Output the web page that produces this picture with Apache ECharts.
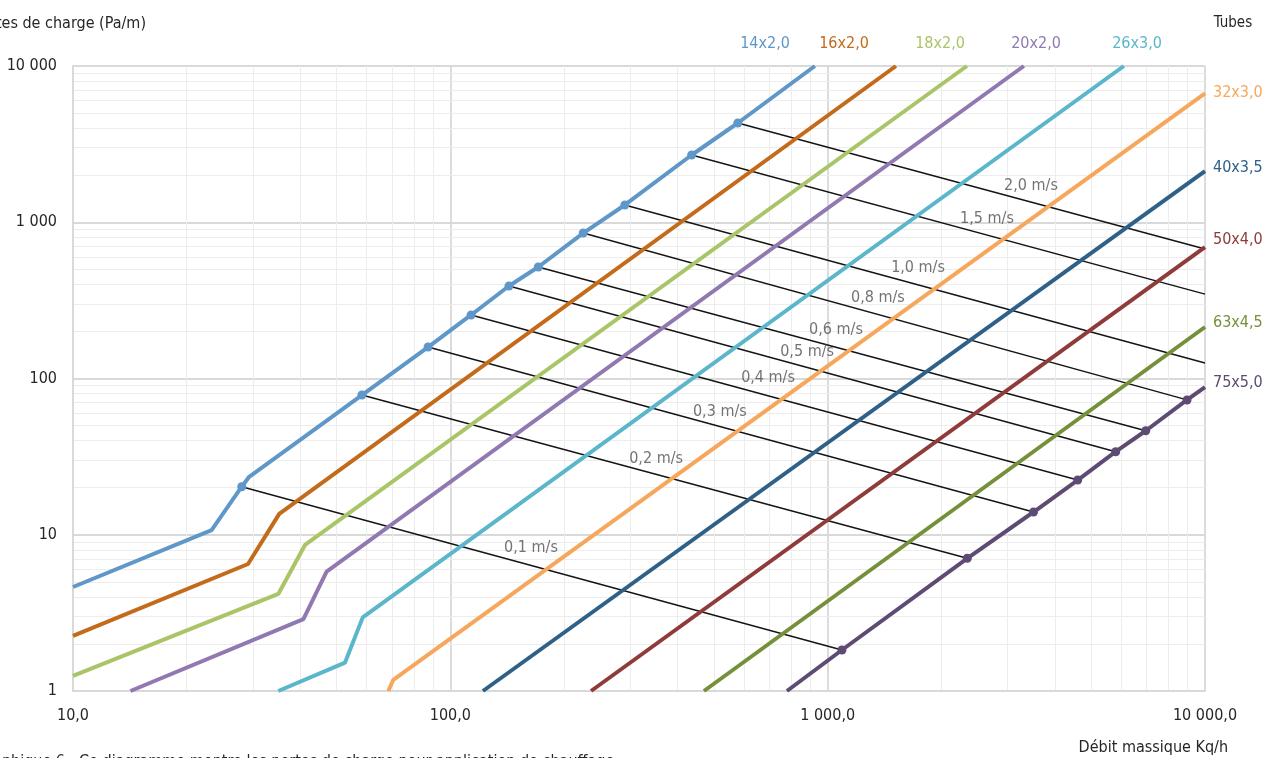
<!DOCTYPE html>
<html>
<head>
<meta charset="utf-8">
<script src="https://cdn.jsdelivr.net/npm/echarts@6/dist/echarts.min.js"></script>
<style>
html,body{margin:0;padding:0;background:#fff;}
#chart{width:1264px;height:758px;}
</style>
</head>
<body>
<div id="chart"></div>
<script>
// ---------- DATA ----------
const xTickLabels = ['10,0', '100,0', '1 000,0', '10 000,0'];
const yTickLabels = ['1', '10', '100', '1 000', '10 000'];
const minorMultipliers = [2, 3, 4, 5, 6, 7, 8, 9];

const tubeNames = ['14x2,0', '16x2,0', '18x2,0', '20x2,0', '26x3,0', '32x3,0', '40x3,5', '50x4,0', '63x4,5', '75x5,0'];
const tubeColors = ['#5f97c8', '#c46a1b', '#a9c567', '#9079b0', '#5ab6cb', '#f7a75c', '#2e6088', '#8e3b3a', '#76903a', '#5e4b73'];

const tube14 = [[10, 4.63], [23.3, 10.7], [28.0, 20.3], [29.3, 23.5], [58.3, 78.4], [87.3, 159], [113.5, 255], [143, 391], [171, 517], [225, 853], [290, 1290], [436, 2694], [578, 4317], [925, 10000]];
const tube16 = [[10, 2.25], [29.1, 6.5], [35.2, 13.6], [1517, 10000]];
const tube18 = [[10, 1.25], [35.0, 4.18], [41.2, 8.6], [2339, 10000]];
const tube20 = [[14.2, 1], [40.8, 2.88], [47.0, 5.8], [3311, 10000]];
const tube26 = [[35.0, 1], [52.6, 1.52], [58.6, 2.96], [6095, 10000]];
const tube32 = [[68.5, 1], [70.6, 1.18], [10000, 6680]];
const tube40 = [[122, 1], [10000, 2128]];
const tube50 = [[236, 1], [10000, 694]];
const tube63 = [[470, 1], [10000, 213.6]];
const tube75 = [[780, 1], [1091, 1.83], [2344, 7.07], [3512, 13.98], [4599, 22.4], [5799, 34.0], [6966, 46.3], [8960, 72.9], [10000, 88.2]];
const tubeData = [tube14, tube16, tube18, tube20, tube26, tube32, tube40, tube50, tube63, tube75];

const velocities = ['0,1 m/s', '0,2 m/s', '0,3 m/s', '0,4 m/s', '0,5 m/s', '0,6 m/s', '0,8 m/s', '1,0 m/s', '1,5 m/s', '2,0 m/s'];
const velFrom = [[28.0, 20.3], [58.3, 78.4], [87.3, 159], [113.5, 255], [143, 391], [171, 517], [225, 853], [290, 1290], [436, 2694], [578, 4317]];
const velTo = [[1091, 1.83], [2344, 7.07], [3512, 13.98], [4599, 22.4], [5799, 34.0], [6966, 46.3], [8960, 72.9], [10000, 125.7], [10000, 347], [10000, 674]];
const velLabelPos = [[163.6, 8.23], [351, 30.5], [518, 61.0], [695, 100.7], [882, 147.7], [1052, 204], [1359, 327.6], [1736, 509.6], [2644, 1049], [3459, 1706]];
const dots14 = velFrom;
const dots75 = [[1091, 1.83], [2344, 7.07], [3512, 13.98], [4599, 22.4], [5799, 34.0], [6966, 46.3], [8960, 72.9]];

// ---------- CHART ----------
const FONT = "'Liberation Sans Narrow', 'DejaVu Sans Condensed', 'Noto Sans', sans-serif";
const chart = echarts.init(document.getElementById('chart'), null, { renderer: 'canvas' });

const minorX = [];
[10, 100, 1000].forEach(d => minorMultipliers.forEach(m => minorX.push(d * m)));
const minorY = [];
[1, 10, 100, 1000].forEach(d => minorMultipliers.forEach(m => minorY.push(d * m)));

const series = [];
// minor grid
series.push({
  type: 'line', data: [], z: 0, silent: true, symbol: 'none',
  markLine: {
    silent: true, symbol: ['none', 'none'], animation: false, z: 0,
    label: { show: false },
    lineStyle: { color: '#ededed', width: 1, type: 'solid' },
    emphasis: { disabled: true },
    data: minorX.map(v => ({ xAxis: v })).concat(minorY.map(v => ({ yAxis: v })))
  }
});
// velocity lines
velocities.forEach((v, i) => {
  series.push({
    type: 'line', name: v, data: [velFrom[i], velTo[i]], symbol: 'none', z: 2,
    silent: true, lineStyle: { color: '#141414', width: 1.4 }
  });
});
// tube lines
tubeNames.forEach((n, i) => {
  series.push({
    type: 'line', name: n, data: tubeData[i], symbol: 'none', z: 3,
    silent: true, lineStyle: { color: tubeColors[i], width: 4 }
  });
});
// dots
series.push({ type: 'scatter', data: dots14, symbolSize: 9, z: 4, silent: true, itemStyle: { color: tubeColors[0], opacity: 1 } });
series.push({ type: 'scatter', data: dots75, symbolSize: 9, z: 4, silent: true, itemStyle: { color: tubeColors[9], opacity: 1 } });
// velocity labels
series.push({
  type: 'scatter', z: 5, silent: true, symbolSize: 1,
  itemStyle: { color: 'rgba(0,0,0,0)' },
  data: velLabelPos.map((p, i) => ({ value: p, name: velocities[i] })),
  label: { show: true, position: 'inside', formatter: p => p.name, color: '#505050', fontSize: 16, fontFamily: FONT }
});

const graphics = [
  { type: 'text', style: { text: 'Pertes de charge (Pa/m)', x: 146, y: 24, align: 'right', verticalAlign: 'middle', font: '16px ' + FONT, fill: '#262626' } },
  { type: 'text', style: { text: 'Tubes', x: 1233, y: 23, align: 'center', verticalAlign: 'middle', font: '15px ' + FONT, fill: '#262626' } },
  { type: 'text', style: { text: 'Débit massique Kq/h', x: 1228, y: 748, align: 'right', verticalAlign: 'middle', font: '16px ' + FONT, fill: '#262626' } },
  { type: 'text', style: { text: 'Graphique 6 : Ce diagramme montre les pertes de charge pour application de chauffage', x: -24, y: 754, align: 'left', verticalAlign: 'top', font: '16px ' + FONT, fill: '#262626' } }
];
const topLabelX = [765, 844, 940, 1036, 1137];
const rightLabelY = [93, 168, 240, 323, 383];
for (let i = 0; i < 5; i++) {
  graphics.push({ type: 'text', style: { text: tubeNames[i], x: topLabelX[i], y: 44, align: 'center', verticalAlign: 'middle', font: '16px ' + FONT, fill: tubeColors[i] } });
}
for (let i = 5; i < 10; i++) {
  graphics.push({ type: 'text', style: { text: tubeNames[i], x: 1213, y: rightLabelY[i - 5], align: 'left', verticalAlign: 'middle', font: '16px ' + FONT, fill: tubeColors[i] } });
}

chart.setOption({
  animation: false,
  backgroundColor: '#fff',
  grid: { left: 73, right: 59, top: 66, bottom: 67, containLabel: false },
  xAxis: {
    type: 'log', logBase: 10, min: 10, max: 10000,
    axisLine: { show: true, lineStyle: { color: '#d9d9d9', width: 2 } },
    axisTick: { show: false },
    splitLine: { show: true, lineStyle: { color: '#d9d9d9', width: 1.8 } },
    axisLabel: {
      margin: 17, fontSize: 16, color: '#262626', fontFamily: FONT,
      formatter: v => xTickLabels[Math.round(Math.log10(v)) - 1]
    }
  },
  yAxis: {
    type: 'log', logBase: 10, min: 1, max: 10000,
    axisLine: { show: true, lineStyle: { color: '#d9d9d9', width: 2 } },
    axisTick: { show: false },
    splitLine: { show: true, lineStyle: { color: '#d9d9d9', width: 1.8 } },
    axisLabel: {
      margin: 16, fontSize: 16, color: '#262626', fontFamily: FONT,
      formatter: v => yTickLabels[Math.round(Math.log10(v))]
    }
  },
  graphic: graphics,
  series: series
});
</script>
</body>
</html>
